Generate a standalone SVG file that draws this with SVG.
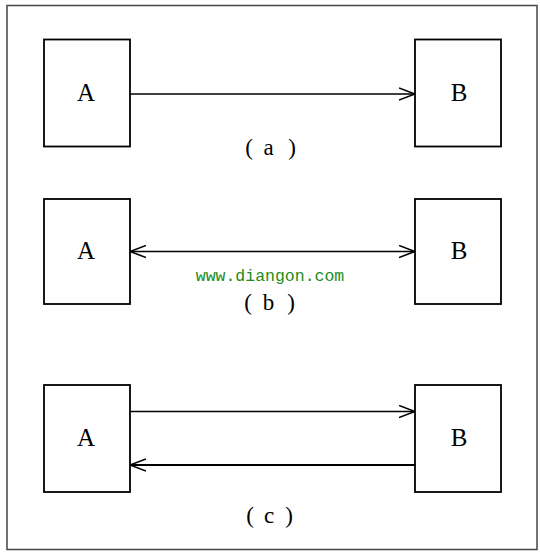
<svg xmlns="http://www.w3.org/2000/svg" width="540" height="553" viewBox="0 0 540 553">
<style>
.box{fill:#fff;stroke:#000;stroke-width:1.8}
.lbl{font-family:"Liberation Serif","Times New Roman",serif;font-size:25px;fill:#000;text-anchor:middle}
.cap{font-family:"Liberation Serif","Times New Roman",serif;font-size:23px;fill:#000;text-anchor:middle}
.wm{font-family:"Liberation Mono","DejaVu Sans Mono",monospace;font-size:16.5px;fill:#1a8c1a;text-anchor:middle}
.ln{stroke:#000;stroke-width:1.6;fill:none}
</style>
<defs>
<marker id="arr" markerUnits="userSpaceOnUse" markerWidth="18" markerHeight="14" refX="16" refY="7" orient="auto-start-reverse">
<path d="M0,1 L16,7 L0,13" fill="none" stroke="#000" stroke-width="1.6"/>
</marker>
</defs>
<rect x="0" y="0" width="540" height="553" fill="#fff"/>
<rect x="7" y="5.5" width="530" height="544" fill="none" stroke="#444" stroke-width="1.5"/>
<g id="connectors">
<line class="ln" x1="130" y1="94" x2="415" y2="94" marker-end="url(#arr)"/>
<line class="ln" x1="130" y1="251.5" x2="415" y2="251.5" marker-start="url(#arr)" marker-end="url(#arr)"/>
<line class="ln" x1="130" y1="411.5" x2="415" y2="411.5" marker-end="url(#arr)"/>
<line class="ln" x1="415" y1="465" x2="130" y2="465" marker-end="url(#arr)" style="stroke-width:2.2"/>
</g>
<g id="nodeA1"><rect class="box" x="44" y="39.5" width="86" height="107"/><text class="lbl" x="86" y="101">A</text></g>
<g id="nodeB1"><rect class="box" x="415" y="39.5" width="86" height="107"/><text class="lbl" x="459" y="101">B</text></g>
<g id="nodeA2"><rect class="box" x="44" y="199" width="86" height="105"/><text class="lbl" x="86" y="259">A</text></g>
<g id="nodeB2"><rect class="box" x="415" y="199" width="86" height="105"/><text class="lbl" x="459" y="259">B</text></g>
<g id="nodeA3"><rect class="box" x="44" y="385" width="86" height="107"/><text class="lbl" x="86" y="446">A</text></g>
<g id="nodeB3"><rect class="box" x="415" y="385" width="86" height="107"/><text class="lbl" x="459" y="446">B</text></g>
<text class="cap" y="155"><tspan x="249">(</tspan><tspan x="268.5">a</tspan><tspan x="292">)</tspan></text>
<text class="wm" x="270" y="281">www.diangon.com</text>
<text class="cap" y="310"><tspan x="248">(</tspan><tspan x="268.5">b</tspan><tspan x="291">)</tspan></text>
<text class="cap" y="523"><tspan x="250">(</tspan><tspan x="269">c</tspan><tspan x="289">)</tspan></text>
</svg>
